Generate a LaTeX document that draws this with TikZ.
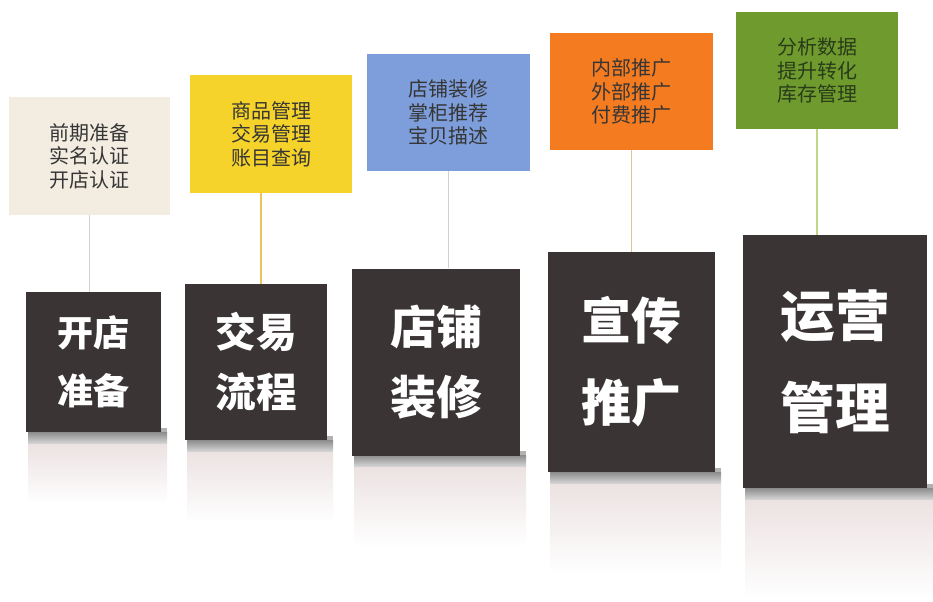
\documentclass[tikz,border=0pt]{standalone}
\usepackage{fontspec}
\newfontfamily\cjk{Noto Sans CJK SC}
\usetikzlibrary{calc}
\definecolor{darkbox}{HTML}{3A3435}
\definecolor{noteA}{HTML}{F2ECE1}
\definecolor{noteB}{HTML}{F5D32A}
\definecolor{noteC}{HTML}{7E9EDB}
\definecolor{noteD}{HTML}{F47B20}
\definecolor{noteE}{HTML}{6F9A2E}
\definecolor{lineA}{HTML}{D8CFCB}
\definecolor{lineB}{HTML}{E6C55A}
\definecolor{lineC}{HTML}{D0D0D0}
\definecolor{lineD}{HTML}{E0C49A}
\definecolor{lineE}{HTML}{C2D68A}
\definecolor{notetext}{HTML}{353535}
\begin{document}
\begin{tikzpicture}[x=0.75pt,y=-0.75pt,
  notebox/.style={inner sep=0pt, align=center, text=notetext,
    font=\cjk\fontsize{15pt}{17.6pt}\selectfont},
  mainbox/.style={fill=darkbox, inner sep=0pt, align=center, text=white},
  link/.style={line width=1pt}]
\useasboundingbox (0,0) rectangle (933,601);
% reflections / shadows under dark boxes
\foreach \l/\r/\b/\h in {26/161/432/60, 185/327/440/70, 352/520/455/80, 548/715/472/90, 743/927/488/100}{
  \shade[top color=black!45, bottom color=black!15] (\l+2,\b) rectangle (\r+6,\b+12);
  \shade[top color={rgb,255:red,236;green,226;blue,226}, bottom color=white] (\l+2,\b+12) rectangle (\r+6,\b+12+\h);
  \fill[black!30] (\r,\b-4) rectangle (\r+6,\b);
}
% note boxes
\node[notebox, fill=noteA, minimum width=161*0.75pt, minimum height=118*0.75pt] (n1) at (89.5,156) {前期准备\\实名认证\\开店认证};
\node[notebox, fill=noteB, minimum width=162*0.75pt, minimum height=118*0.75pt] (n2) at (271,134) {商品管理\\交易管理\\账目查询};
\node[notebox, fill=noteC, minimum width=163*0.75pt, minimum height=117*0.75pt] (n3) at (448.5,112.5) {店铺装修\\掌柜推荐\\宝贝描述};
\node[notebox, fill=noteD, minimum width=163*0.75pt, minimum height=117*0.75pt] (n4) at (631.5,91.5) {内部推广\\外部推广\\付费推广};
\node[notebox, fill=noteE, minimum width=162*0.75pt, minimum height=117*0.75pt, text={rgb,255:red,40;green,60;blue,25}] (n5) at (817,70.5) {分析数据\\提升转化\\库存管理};
% dark boxes
\node[mainbox, minimum width=135*0.75pt, minimum height=140*0.75pt,
  font=\cjk\bfseries\fontsize{27pt}{43.5pt}\selectfont] (b1) at (93.5,362) {开店\\准备};
\node[mainbox, minimum width=142*0.75pt, minimum height=156*0.75pt,
  font=\cjk\bfseries\fontsize{30.5pt}{45pt}\selectfont] (b2) at (256,362) {交易\\流程};
\node[mainbox, minimum width=168*0.75pt, minimum height=187*0.75pt,
  font=\cjk\bfseries\fontsize{34.5pt}{53pt}\selectfont] (b3) at (436,362) {店铺\\装修};
\node[mainbox, minimum width=167*0.75pt, minimum height=220*0.75pt,
  font=\cjk\bfseries\fontsize{37.5pt}{61.5pt}\selectfont] (b4) at (631.5,362) {宣传\\推广};
\node[mainbox, minimum width=184*0.75pt, minimum height=253*0.75pt,
  font=\cjk\bfseries\fontsize{41pt}{69pt}\selectfont] (b5) at (835,361.5) {运营\\管理};
% connectors
\draw[link, lineA] (n1.south) -- (n1.south |- b1.north);
\draw[link, lineB] ([xshift=-7.5pt]n2.south) -- ([xshift=-7.5pt]n2.south |- b2.north);
\draw[link, lineC] (n3.south) -- (n3.south |- b3.north);
\draw[link, lineD] (n4.south) -- (n4.south |- b4.north);
\draw[link, lineE] (n5.south) -- (n5.south |- b5.north);
\end{tikzpicture}
\end{document}
